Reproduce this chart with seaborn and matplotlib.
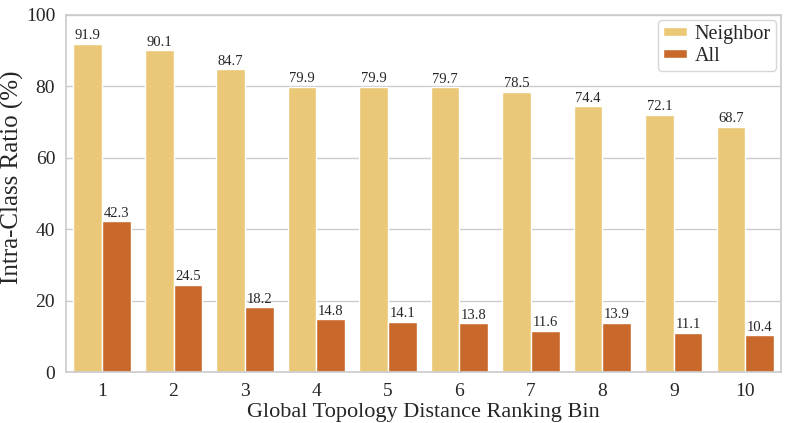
import pandas as pd
import matplotlib
matplotlib.use('Agg')
import matplotlib.pyplot as plt
import seaborn as sns

bins = [str(i) for i in range(1, 11)]
neighbor = [91.9, 90.1, 84.7, 79.9, 79.9, 79.7, 78.5, 74.4, 72.1, 68.7]
all_vals = [42.3, 24.5, 18.2, 14.8, 14.1, 13.8, 11.6, 13.9, 11.1, 10.4]
series = ['Neighbor', 'All']

NEIGHBOR_COLOR = '#EAC878'
ALL_COLOR = '#C8692B'

df = pd.DataFrame({
    'bin': bins * 2,
    'ratio': neighbor + all_vals,
    'type': [series[0]] * len(bins) + [series[1]] * len(bins),
})

sns.set_theme(style='whitegrid')
plt.rcParams['font.family'] = ['Liberation Serif', 'DejaVu Serif']

fig, ax = plt.subplots(figsize=(7.89, 4.23), dpi=100)
fig.subplots_adjust(left=0.084, right=0.99, top=0.965, bottom=0.12)

sns.barplot(data=df, x='bin', y='ratio', hue='type', order=bins, hue_order=series,
            palette=[NEIGHBOR_COLOR, ALL_COLOR], saturation=1, ax=ax,
            edgecolor='white', linewidth=1)

for container in ax.containers:
    ax.bar_label(container, fmt='%.1f', fontsize=10.5, padding=1)

ax.set_ylim(0, 100)
ax.set_yticks(range(0, 101, 20))
ax.set_xlabel('Global Topology Distance Ranking Bin', fontsize=16, labelpad=2)
ax.set_ylabel('Intra-Class Ratio (%)', fontsize=18)
ax.yaxis.set_label_coords(-0.059, 0.546)
ax.tick_params(axis='both', labelsize=14, pad=2)
ax.xaxis.grid(False)
for s in ax.spines.values():
    s.set_color('#cccccc')

ax.legend(loc='upper right', fontsize=14.5, handlelength=1.2, handleheight=0.35,
          handletextpad=0.4, borderpad=0.25, labelspacing=0.15, borderaxespad=0.25,
          title=None)

plt.savefig('out.png', dpi=100)
